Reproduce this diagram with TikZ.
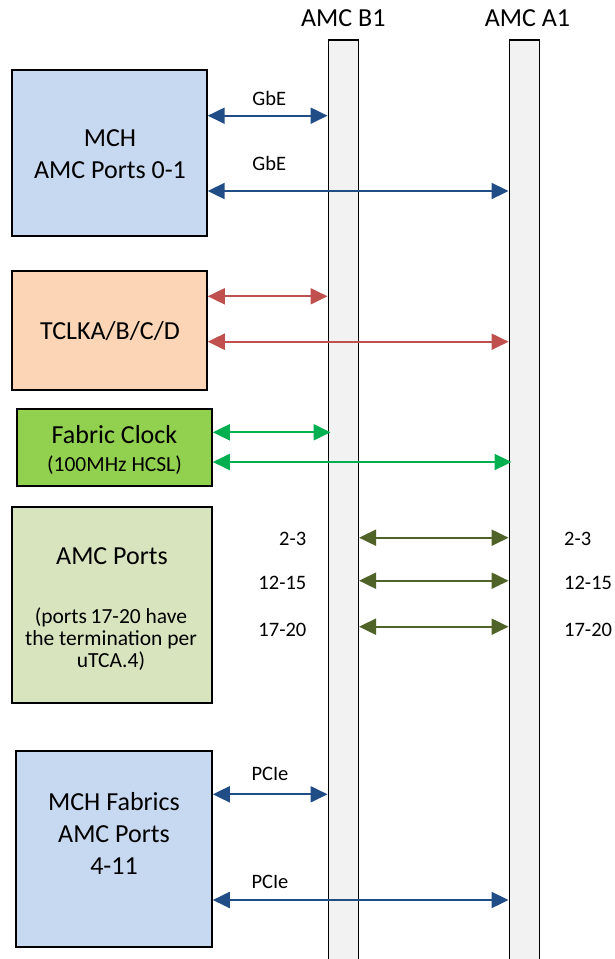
\documentclass[tikz,border=0pt]{standalone}
\usepackage{fontspec}
\setmainfont{Carlito}
\usetikzlibrary{arrows.meta}
\definecolor{boxblue}{HTML}{C6D9F0}
\definecolor{boxpeach}{HTML}{FBD5B5}
\definecolor{boxgreen}{HTML}{92D050}
\definecolor{boxolive}{HTML}{D7E4BD}
\definecolor{barfill}{HTML}{F2F2F2}
\definecolor{arrblue}{HTML}{214D87}
\definecolor{arrred}{HTML}{C0504D}
\definecolor{arrgreen}{HTML}{00B050}
\definecolor{arrolive}{HTML}{4F6228}
\tikzset{
  blockbox/.style={draw=black, line width=2pt, rectangle, inner sep=0pt},
  barbox/.style={draw=black, line width=1.5pt, fill=barfill, rectangle, inner sep=0pt, minimum width=30pt, minimum height=925pt},
  bigtxt/.style={inner sep=0pt, anchor=base, font=\fontsize{26}{32}\selectfont},
  smalltxt/.style={inner sep=0pt, anchor=base, font=\fontsize{21.5}{22}\selectfont},
  lbltxt/.style={inner sep=0pt, font=\fontsize{20.5}{22}\selectfont},
  link/.style={line width=2pt, {Triangle[length=17pt,width=16pt]}-{Triangle[length=17pt,width=16pt]}},
}
\begin{document}
\begin{tikzpicture}[x=1pt,y=-1pt]
\useasboundingbox (0,0) rectangle (615,959);
\fill[white] (0,0) rectangle (615,959);

% bars
\node[barbox] (b1) at (343.3,502.5) {};
\node[barbox] (a1) at (524.3,502.5) {};
\node[bigtxt] (tb1) at (343.3,26.7) {AMC B1};
\node[bigtxt] (ta1) at (527.5,26.7) {AMC A1};

% boxes
\node[blockbox, fill=boxblue, minimum width=195pt, minimum height=166pt] (mch) at (109.2,153) {};
\node[blockbox, fill=boxpeach, minimum width=195pt, minimum height=119pt] (tclk) at (109.25,330.5) {};
\node[blockbox, fill=boxgreen, minimum width=195.3pt, minimum height=76.4pt] (fclk) at (114.15,447.5) {};
\node[blockbox, fill=boxolive, minimum width=200.6pt, minimum height=196pt] (amcp) at (112,605.3) {};
\node[blockbox, fill=boxblue, minimum width=195.8pt, minimum height=196.3pt] (fab) at (113.9,849.2) {};

% box texts
\node[bigtxt] (mcht1) at (110,146.7) {MCH};
\node[bigtxt] (mcht2) at (110,178.3) {AMC Ports 0-1};
\node[bigtxt] (tclkt) at (110,339.3) {TCLKA/B/C/D};
\node[bigtxt] (fclkt1) at (114.5,443.3) {Fabric Clock};
\node[smalltxt] (fclkt2) at (114.5,471.7) {(100MHz HCSL)};
\node[bigtxt] (amcpt1) at (112,564) {AMC Ports};
\node[smalltxt] (amcpt2) at (111,623.3) {(ports\,17-20 have};
\node[smalltxt] (amcpt3) at (111,645.7) {the termination per};
\node[smalltxt] (amcpt4) at (111,667.3) {uTCA.4)};
\node[bigtxt] (fabt1) at (114,810.7) {MCH Fabrics};
\node[bigtxt] (fabt2) at (114,842.3) {AMC Ports};
\node[bigtxt] (fabt3) at (114,874.3) {4-11};

% levels
\coordinate (yg1) at (0,115.7);
\coordinate (yg2) at (0,191);
\coordinate (yr1) at (0,296.3);
\coordinate (yr2) at (0,341.7);
\coordinate (yf1) at (0,432.3);
\coordinate (yf2) at (0,462);
\coordinate (yo1) at (0,537.7);
\coordinate (yo2) at (0,580.7);
\coordinate (yo3) at (0,626.7);
\coordinate (yp1) at (0,794.3);
\coordinate (yp2) at (0,900);

% connectors
\draw[link, arrblue] (mch.east |- yg1) -- (b1.west |- yg1);
\draw[link, arrblue] (mch.east |- yg2) -- (a1.west |- yg2);
\draw[link, arrred] (tclk.east |- yr1) -- (b1.west |- yr1);
\draw[link, arrred] (tclk.east |- yr2) -- (a1.west |- yr2);
\draw[link, arrgreen, shorten >=-3pt] (fclk.east |- yf1) -- (b1.west |- yf1);
\draw[link, arrgreen, shorten >=-3pt] (fclk.east |- yf2) -- (a1.west |- yf2);
\draw[link, arrolive] (b1.east |- yo1) -- (a1.west |- yo1);
\draw[link, arrolive] (b1.east |- yo2) -- (a1.west |- yo2);
\draw[link, arrolive] (b1.east |- yo3) -- (a1.west |- yo3);
\draw[link, arrblue] (fab.east |- yp1) -- (b1.west |- yp1);
\draw[link, arrblue] (fab.east |- yp2) -- (a1.west |- yp2);

% labels
\node[lbltxt, anchor=base] (lg1) at (269.3,105) {GbE};
\node[lbltxt, anchor=base] (lg2) at (269.3,170) {GbE};
\node[lbltxt, anchor=base] (lp1) at (270,780) {PCIe};
\node[lbltxt, anchor=base] (lp2) at (270,888.3) {PCIe};
\node[lbltxt, anchor=base east] (ll1) at (306.5,545.7) {2-3};
\node[lbltxt, anchor=base east] (ll2) at (306.5,589.3) {12-15};
\node[lbltxt, anchor=base east] (ll3) at (306.5,636) {17-20};
\node[lbltxt, anchor=base west] (lr1) at (564,545.7) {2-3};
\node[lbltxt, anchor=base west] (lr2) at (564,589.3) {12-15};
\node[lbltxt, anchor=base west] (lr3) at (564,636) {17-20};
\end{tikzpicture}
\end{document}
